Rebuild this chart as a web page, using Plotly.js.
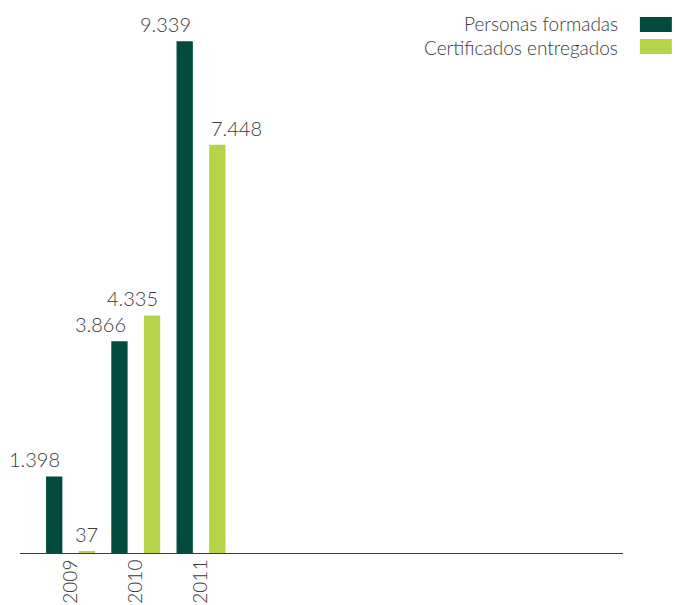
<!DOCTYPE html>
<html><head><meta charset="utf-8">
<script src="https://cdn.plot.ly/plotly-3.0.1.min.js"></script>
<style>html,body{margin:0;padding:0;background:#fff}#c{width:675px;height:605px}</style>
</head><body><div id="c"></div>
<script>
const years = ["2009", "2010", "2011"];
const personasFormadas = [1398, 3866, 9339];
const certificadosEntregados = [37, 4335, 7448];
const seriesNames = ["Personas formadas", "Certificados entregados"];
const colors = ["#004b3d", "#b5d44a"];
const labelsP = ["1.398", "3.866", "9.339"];
const labelsC = ["37", "4.335", "7.448"];

const xs = years.map((y, i) => i);
const fam = "Lato, 'Open Sans', sans-serif";
const textFont = {family: fam, size: 20, color: "#3a3a3a", weight: 300};
const barW = 0.25, offP = -0.375, offC = 0.125;

const traces = [
  {type: "bar", x: xs, y: personasFormadas, name: seriesNames[0], marker: {color: colors[0]},
   width: barW, offset: offP, hoverinfo: "skip"},
  {type: "bar", x: xs, y: certificadosEntregados, name: seriesNames[1], marker: {color: colors[1]},
   width: barW, offset: offC, hoverinfo: "skip"}
];

// value labels placed through the data scales
const anchorsP = ["right", "right", "right"];
const anchorsC = ["center", "right", "left"];
const valueAnn = [];
xs.forEach((x, i) => {
  const ap = anchorsP[i];
  valueAnn.push({xref: "x", yref: "y", x: x + offP + (ap === "right" ? barW : ap === "left" ? 0 : barW / 2),
    y: personasFormadas[i], xanchor: ap, yanchor: "bottom", yshift: 3, text: labelsP[i],
    showarrow: false, font: textFont});
  const ac = anchorsC[i];
  valueAnn.push({xref: "x", yref: "y", x: x + offC + (ac === "right" ? barW : ac === "left" ? 0 : barW / 2),
    y: certificadosEntregados[i], xanchor: ac, yanchor: "bottom", yshift: 3, text: labelsC[i],
    showarrow: false, font: textFont});
});

const legendAnn = seriesNames.map((n, i) => ({
  xref: "paper", yref: "paper", x: 0.995, y: [0.9925, 0.9493][i],
  xanchor: "right", yanchor: "middle", text: n, showarrow: false,
  font: {family: fam, size: 19, color: "#3a3a3a", weight: 300}
}));
const shapes = seriesNames.map((n, i) => ({
  type: "rect", xref: "paper", yref: "paper", x0: 1.028, x1: 1.081,
  y0: [0.9775, 0.9362][i], y1: [1.0056, 0.9644][i], fillcolor: colors[i], line: {width: 0}
}));

const layout = {
  width: 675, height: 605,
  margin: {l: 20, r: 52, t: 20, b: 52},
  paper_bgcolor: "#fff", plot_bgcolor: "#fff",
  showlegend: false, barmode: "overlay",
  xaxis: {range: [-0.774, 8.467], tickvals: xs, ticktext: years, tickangle: -90,
          showline: true, linecolor: "#3a3a3a", linewidth: 1, showgrid: false, zeroline: false,
          ticks: "", ticklabelstandoff: -2,
          tickfont: {family: fam, size: 19, color: "#3a3a3a", weight: 300}, fixedrange: true},
  yaxis: {range: [0, 9726], visible: false, showgrid: false, zeroline: false, fixedrange: true},
  annotations: valueAnn.concat(legendAnn), shapes: shapes
};
Plotly.newPlot("c", traces, layout, {displayModeBar: false, staticPlot: true});
</script></body></html>
